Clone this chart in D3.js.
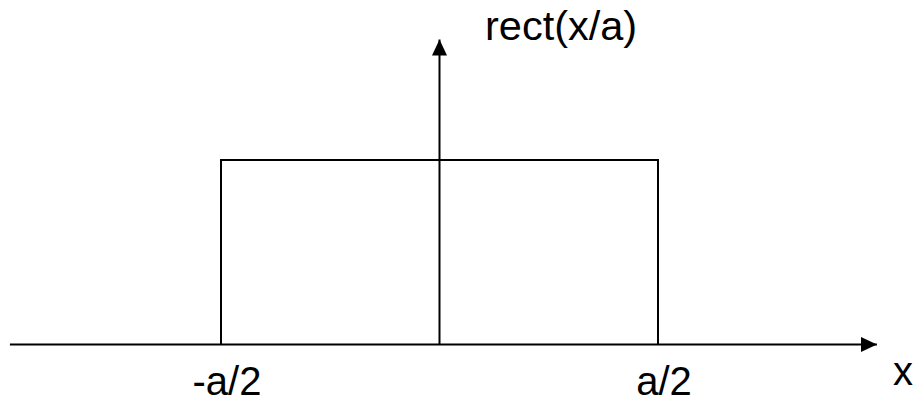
<!DOCTYPE html>
<html>
<head>
<meta charset="utf-8">
<script src="https://cdn.jsdelivr.net/npm/d3@7"></script>
<style>
  body { margin: 0; background: #fff; }
  text { font-family: "Liberation Sans", Arial, sans-serif; fill: #000; }
</style>
</head>
<body>
<svg id="rect-plot" width="920" height="404"></svg>
<script>
// rect(x/a) as a piecewise function of x, in units of a
const rectX = [-0.5, -0.5, 0.5, 0.5];
const rectY = [0, 1, 1, 0];
const tickValues = [-0.5, 0.5];
const tickLabels = ["-a/2", "a/2"];
const xAxisExtent = [-0.983, 1.001];
const yAxisExtent = [0, 1.653];

const svg = d3.select("#rect-plot");

const x = d3.scaleLinear().domain([-0.5, 0.5]).range([221, 658]);
const y = d3.scaleLinear().domain([0, 1]).range([344.5, 160]);

const defs = svg.append("defs");
defs.append("marker")
    .attr("id", "arrow")
    .attr("viewBox", "0 0 16 15")
    .attr("refX", 16)
    .attr("refY", 7.5)
    .attr("markerWidth", 16)
    .attr("markerHeight", 15)
    .attr("markerUnits", "userSpaceOnUse")
    .attr("orient", "auto")
    .append("path")
    .attr("d", "M0,0 L16,7.5 L0,15 Z")
    .attr("fill", "#000");

// the rectangle
const line = d3.line().x(d => x(d[0])).y(d => y(d[1]));
svg.append("path")
    .datum(rectX.map((v, i) => [v, rectY[i]]))
    .attr("d", line)
    .attr("fill", "none")
    .attr("stroke", "#000")
    .attr("stroke-width", 2);

// x axis
svg.append("line")
    .attr("x1", x(xAxisExtent[0]))
    .attr("x2", x(xAxisExtent[1]))
    .attr("y1", y(0))
    .attr("y2", y(0))
    .attr("stroke", "#000")
    .attr("stroke-width", 2)
    .attr("marker-end", "url(#arrow)");

// y axis
svg.append("line")
    .attr("x1", x(0))
    .attr("x2", x(0))
    .attr("y1", y(yAxisExtent[0]))
    .attr("y2", y(yAxisExtent[1]))
    .attr("stroke", "#000")
    .attr("stroke-width", 2)
    .attr("marker-end", "url(#arrow)");

// tick labels
svg.selectAll(".tick-label")
    .data(tickValues)
    .join("text")
    .attr("class", "tick-label")
    .attr("x", d => x(d) + 6)
    .attr("y", 395)
    .attr("text-anchor", "middle")
    .style("font-size", "40px")
    .text((d, i) => tickLabels[i]);

// axis labels
svg.append("text")
    .attr("x", 903)
    .attr("y", 385)
    .attr("text-anchor", "middle")
    .style("font-size", "40px")
    .text("x");

svg.append("text")
    .attr("x", 485)
    .attr("y", 40)
    .style("font-size", "41.5px")
    .text("rect(x/a)");
</script>
</body>
</html>
